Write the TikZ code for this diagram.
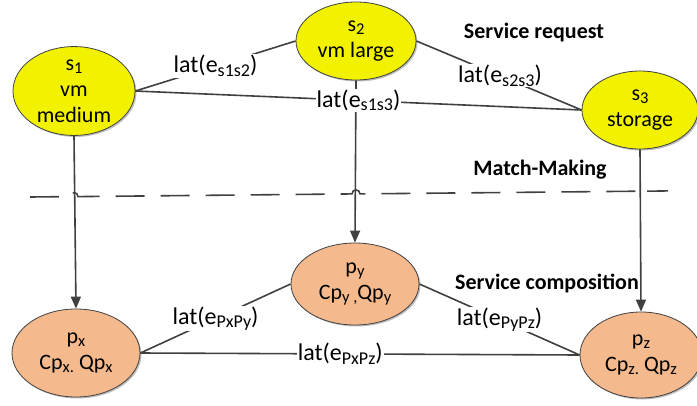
\documentclass[tikz,border=0pt]{standalone}
\usepackage{fontspec}
\setmainfont{Carlito}
\usepackage{graphicx}
\usetikzlibrary{shapes.geometric,arrows.meta,shadows}
\definecolor{reqfill}{HTML}{F2F200}
\definecolor{compfill}{HTML}{F4B98C}
\definecolor{edgegray}{HTML}{404040}
% lowered, reduced index text
\newcommand{\lo}[1]{\raisebox{-0.3ex}{\scalebox{0.75}{#1}}}

\begin{document}
\begin{tikzpicture}[x=1pt,y=-1pt,
  svc/.style={ellipse, draw=edgegray, line width=0.8pt, inner sep=0pt, align=center,
    font=\fontsize{22}{26}\selectfont,
    drop shadow={shadow xshift=1.5pt, shadow yshift=-1.5pt, opacity=0.25, fill=black}},
  req/.style={svc, fill=reqfill},
  comp/.style={svc, fill=compfill},
  link/.style={draw=edgegray, line width=1.6pt},
  map/.style={link, -{Triangle[length=12pt,width=10pt]}},
  lbl/.style={fill=white, inner sep=1pt, font=\fontsize{24}{28}\selectfont},
  head/.style={font=\fontsize{22}{26}\selectfont\bfseries},
  sep/.style={draw=edgegray, line width=1.6pt, dash pattern=on 29pt off 16pt},
]
\useasboundingbox (0,0) rectangle (697,405);

% requested services
\node[req, minimum width=122pt, minimum height=88pt] (s1) at (74,91) {s\lo{1}\\vm\\medium};
\node[req, minimum width=120pt, minimum height=78pt] (s2) at (356,41) {s\lo{2}\\vm large};
\node[req, minimum width=116pt, minimum height=78pt] (s3) at (640,110) {s\lo{3}\\storage};

% composed providers
\node[comp, minimum width=128pt, minimum height=88pt] (px) at (76,353) {p\lo{x}\\Cp\lo{x.} Qp\lo{x}};
\node[comp, minimum width=128pt, minimum height=82pt] (py) at (355,284) {p\lo{y}\\Cp\lo{y ,}Qp\lo{y}};
\node[comp, minimum width=122pt, minimum height=86pt] (pz) at (641,355) {p\lo{z}\\Cp\lo{z.} Qp\lo{z}};

% headings
\node[head] (hreq) at (534,33) {Service request};
\node[head] (hmm) at (540,170) {Match-Making};
\node[head] (hcomp) at (547,283) {Service composition};

% match-making separator with jumps over the mapping arrows
\draw[sep] (30,197) -- (70,196.6)
  .. controls (70,191.3) and (78,191.3) .. (78,196.6) -- (352,193.9)
  .. controls (352,188.6) and (360,188.6) .. (360,193.9) -- (638,191.2)
  .. controls (638,185.9) and (646,185.9) .. (646,191.2) -- (668,190.9);

% mappings
\draw[map] (s1.south) -- (px.north);
\draw[map] (s2.south) -- (py.north);
\draw[map] (s3.south) -- (pz.north);

% latencies between requested services
\draw[link] (s1.east) -- node[lbl] (e12) {lat(e\lo{s1s2})} (s2.west);
\draw[link] (s2.east) -- node[lbl, pos=0.506] (e23) {lat(e\lo{s2s3})} (s3.west);
\draw[link] (s1.east) -- node[lbl] (e13) {lat(e\lo{s1s3})} (s3.west);

% latencies between providers
\draw[link] (px.east) -- node[lbl] (exy) {lat(e\lo{PxPy})} (py.west);
\draw[link] (py.east) -- node[lbl] (eyz) {lat(e\lo{PyPz})} (pz.west);
\draw[link] (px.east) -- node[lbl, pos=0.455] (exz) {lat(e\lo{PxPz})} (pz.west);
\end{tikzpicture}
\end{document}
